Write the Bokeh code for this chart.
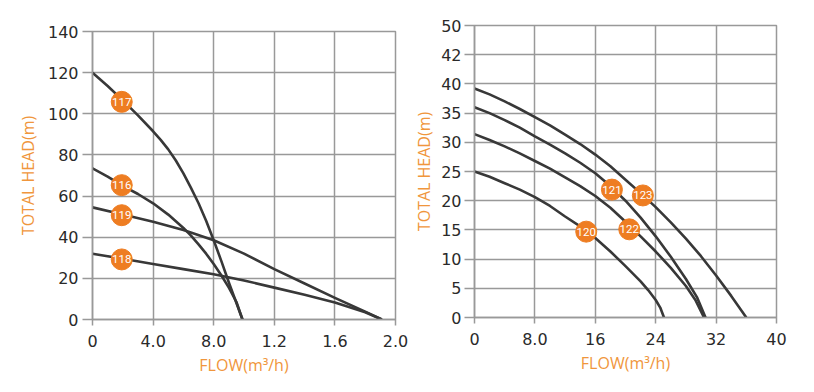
from bokeh.plotting import figure
from bokeh.layouts import row, column
from bokeh.models import Range1d, FixedTicker, ColumnDataSource
from bokeh.core.properties import value
from bokeh.embed import file_html
from bokeh.resources import INLINE

# ---------------- Left chart data ----------------
left_xticks = [0, 0.4, 0.8, 1.2, 1.6, 2.0]
left_xlabels = ["0", "4.0", "8.0", "1.2", "1.6", "2.0"]
left_yticks = [0, 20, 40, 60, 80, 100, 120, 140]

c117_x = [0, 0.1, 0.2, 0.3, 0.4, 0.45, 0.5, 0.55, 0.6, 0.65, 0.7, 0.75, 0.8, 0.85, 0.9, 0.95, 0.99]
c117_y = [120, 113.5, 106.5, 99.2, 91.5, 87.3, 82.7, 77.3, 71, 64, 56.5, 48, 38.5, 28.5, 18, 8, 0]
c116_x = [0, 0.1, 0.2, 0.3, 0.4, 0.5, 0.6, 0.65, 0.7, 0.75, 0.8, 0.85, 0.9, 0.95, 0.99]
c116_y = [73.5, 69.5, 65, 61, 56.5, 51, 44.5, 40.8, 36.5, 32, 27, 21.5, 15.5, 8.5, 0]
c119_x = [0, 0.2, 0.4, 0.6, 0.8, 1.0, 1.2, 1.4, 1.6, 1.8, 1.91]
c119_y = [54.5, 51, 47.5, 43.5, 38.5, 32, 24.5, 17.5, 10.5, 3.8, 0]
c118_x = [0, 0.2, 0.4, 0.6, 0.8, 1.0, 1.2, 1.4, 1.6, 1.8, 1.91]
c118_y = [32, 29.5, 27, 24.5, 22, 19, 15.5, 12, 8.3, 3.5, 0]

left_mark_x = [0.193, 0.193, 0.193, 0.193]
left_mark_y = [105.8, 65.3, 50.7, 29.2]
left_mark_t = ["117", "116", "119", "118"]

# ---------------- Right chart data ----------------
right_xticks = [0, 8, 16, 24, 32, 40]
right_xlabels = ["0", "8.0", "16", "24", "32", "40"]
right_yticks = [0, 5, 10, 15, 20, 25, 30, 35, 40, 45, 50]
right_ylabels = ["0", "5", "10", "15", "20", "25", "30", "35", "40", "42", "50"]

c123_x = [0, 2, 4, 6, 8, 10, 12, 14, 16, 18, 20, 22, 24, 26, 28, 30, 32, 34, 36]
c123_y = [39.2, 38.2, 37, 35.7, 34.3, 32.9, 31.3, 29.7, 27.9, 25.9, 23.6, 21.3, 18.9, 16.3, 13.5, 10.5, 7.2, 3.7, 0]
c121_x = [0, 2, 4, 6, 8, 10, 12, 14, 16, 18, 20, 22, 24, 26, 28, 29.5, 30.6]
c121_y = [36, 35, 33.8, 32.5, 31, 29.6, 28.1, 26.5, 24.7, 22.5, 20.0, 17.1, 13.9, 10.4, 6.6, 3.4, 0]
c122_x = [0, 2, 4, 6, 8, 10, 12, 14, 16, 18, 20, 22, 24, 26, 28, 29.3, 30.4]
c122_y = [31.4, 30.4, 29.3, 28.1, 26.8, 25.5, 24.0, 22.5, 20.8, 18.8, 16.4, 13.9, 11.3, 8.5, 5.4, 2.9, 0]
c120_x = [0, 2, 4, 6, 8, 10, 12, 14, 16, 18, 20, 22, 23, 24, 24.6, 25.1]
c120_y = [25, 24.1, 23, 21.9, 20.6, 19.1, 17.3, 15.6, 13.6, 11.3, 8.8, 6.2, 4.7, 3.0, 1.7, 0]

right_mark_x = [18.2, 22.3, 14.8, 20.5]
right_mark_y = [21.9, 20.9, 14.7, 15.1]
right_mark_t = ["121", "123", "120", "122"]

# ---------------- styles ----------------
GRID = "#999999"
CURVE = "#383838"
ORANGE = "#EE7D22"
TITLE = "#F0963C"
TICK_TXT = "#2a2a2a"


def style(p, xticks, xlabels, yticks, ylabels):
    p.xaxis.ticker = FixedTicker(ticks=xticks)
    p.yaxis.ticker = FixedTicker(ticks=yticks)
    p.xaxis.major_label_overrides = {t: l for t, l in zip(xticks, xlabels)}
    p.yaxis.major_label_overrides = {t: l for t, l in zip(yticks, ylabels)}
    for ax in (p.xaxis, p.yaxis):
        ax.axis_line_color = GRID
        ax.axis_line_width = 1.5
        ax.major_tick_line_color = GRID
        ax.major_tick_line_width = 1.5
        ax.minor_tick_line_color = None
        ax.major_tick_in = 0
        ax.major_label_text_font = "DejaVu Sans"
        ax.major_label_text_font_size = "16px"
        ax.major_label_text_color = TICK_TXT
        ax.axis_label_text_font = "Open Sans"
        ax.axis_label_text_font_size = "16px"
        ax.axis_label_text_font_style = "normal"
        ax.axis_label_text_color = TITLE
    p.yaxis.major_tick_out = 10
    p.xaxis.major_tick_out = 6
    p.yaxis.major_label_standoff = 4
    p.xaxis.major_label_standoff = 9
    p.xaxis.axis_label_standoff = 4
    p.yaxis.axis_label_standoff = 6
    p.xgrid.ticker = FixedTicker(ticks=xticks)
    p.ygrid.ticker = FixedTicker(ticks=yticks)
    for g in (p.xgrid, p.ygrid):
        g.grid_line_color = GRID
        g.grid_line_width = 1.5
    p.outline_line_color = GRID
    p.outline_line_width = 1.5
    p.background_fill_color = "white"
    p.border_fill_color = "white"


def add_curves(p, curves, mx, my, mt):
    for xs, ys in curves:
        p.line(xs, ys, line_color=CURVE, line_width=2.6, line_join="round")
    src = ColumnDataSource(dict(x=mx, y=my, t=mt))
    p.scatter("x", "y", source=src, size=21, fill_color=ORANGE, line_color=ORANGE)
    p.text("x", "y", text="t", source=src, text_align="center", text_baseline="middle",
           text_color="white", text_font=value("Roboto"),
           text_font_size="11.5px")


p1 = figure(frame_width=303, frame_height=288, x_range=Range1d(0, 2.0), y_range=Range1d(0, 140),
            min_border_left=92, min_border_right=14, min_border_top=31, min_border_bottom=62,
            output_backend="svg", toolbar_location=None, title_location=None,
            x_axis_label="FLOW(m³/h)", y_axis_label="TOTAL HEAD(m)")
style(p1, left_xticks, left_xlabels, left_yticks, [str(v) for v in left_yticks])
add_curves(p1, [(c117_x, c117_y), (c116_x, c116_y), (c119_x, c119_y), (c118_x, c118_y)],
           left_mark_x, left_mark_y, left_mark_t)

p2 = figure(frame_width=302, frame_height=292, x_range=Range1d(0, 40), y_range=Range1d(0, 50),
            min_border_left=65, min_border_right=30, min_border_top=25, min_border_bottom=68,
            output_backend="svg", toolbar_location=None, title_location=None,
            x_axis_label="FLOW(m³/h)", y_axis_label="TOTAL HEAD(m)")
style(p2, right_xticks, right_xlabels, right_yticks, right_ylabels)
p2.yaxis.major_label_standoff = 3
p2.yaxis.axis_label_standoff = 3
add_curves(p2, [(c123_x, c123_y), (c121_x, c121_y), (c122_x, c122_y), (c120_x, c120_y)],
           right_mark_x, right_mark_y, right_mark_t)

layout = row(column(p1), column(p2))
open("out.html", "w").write(file_html(layout, INLINE))
